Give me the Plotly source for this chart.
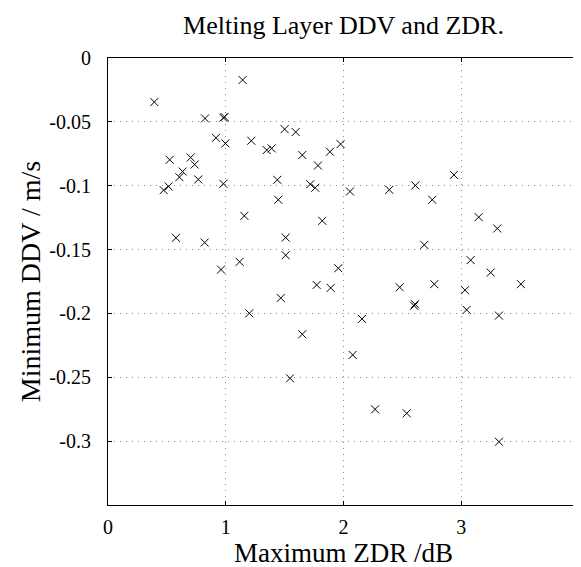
import plotly.graph_objects as go

# Data
zdr_max = [0.393, 1.143, 0.824, 0.98, 0.99, 0.917, 0.997, 1.217, 1.348, 1.39, 1.5, 1.594,
           1.65, 1.783, 1.885, 1.975, 0.524, 0.702, 0.736, 0.634, 0.606, 0.767, 0.473,
           0.515, 0.98, 1.438, 1.446, 1.718, 1.76, 2.055, 2.389, 2.61, 2.754, 2.938,
           3.148, 1.158, 1.82, 0.577, 0.821, 1.509, 1.509, 1.118, 0.96, 1.956, 1.772,
           1.891, 1.467, 1.2, 1.65, 1.546, 3.306, 2.686, 3.08, 3.25, 3.507, 2.477,
           2.771, 3.032, 2.607, 2.60, 3.046, 3.32, 2.157, 2.078, 2.268, 2.537, 3.32]
ddv_min = [-0.0345, -0.0172, -0.0473, -0.0468, -0.0462, -0.0625, -0.0669, -0.0648, -0.0721,
           -0.0708, -0.0557, -0.058, -0.076, -0.0842, -0.0734, -0.0674, -0.0797, -0.0779,
           -0.0834, -0.0889, -0.0933, -0.0951, -0.1035, -0.1006, -0.0985, -0.0954, -0.111,
           -0.0988, -0.1016, -0.1045, -0.1032, -0.0998, -0.111, -0.0915, -0.1246, -0.1236,
           -0.1275, -0.1408, -0.1445, -0.1406, -0.1544, -0.1596, -0.1657, -0.1646, -0.1777,
           -0.18, -0.1879, -0.1999, -0.2163, -0.2508, -0.1335, -0.1463, -0.1583, -0.168,
           -0.1771, -0.1795, -0.1771, -0.1818, -0.1928, -0.194, -0.1972, -0.2017, -0.2043,
           -0.2325, -0.2751, -0.2782, -0.3005]

x_ticks = [0, 1, 2, 3, 4]
x_tick_labels = ["0", "1", "2", "3", "4"]
y_ticks = [0, -0.05, -0.1, -0.15, -0.2, -0.25, -0.3]
y_tick_labels = ["0", "-0.05", "-0.1", "-0.15", "-0.2", "-0.25", "-0.3"]

FONT = "Times New Roman, Liberation Serif, serif"

fig = go.Figure()
fig.add_trace(go.Scatter(
    x=zdr_max, y=ddv_min, mode="markers",
    marker=dict(symbol="x-thin-open", size=8, color="black",
                line=dict(color="black", width=1)),
    showlegend=False,
))

axis_common = dict(
    automargin=False,
    showline=True, linecolor="black", linewidth=1, mirror="ticks",
    ticks="inside", ticklen=4, tickcolor="black",
    showgrid=True, gridcolor="#8a8a8a", griddash="1px,5px", gridwidth=1,
    zeroline=False,
    tickfont=dict(family=FONT, size=20, color="black"),
)

# page has an 8px body margin, so figure coords = page coords - 8
fig.update_layout(
    template="none",
    width=581, height=567,
    margin=dict(l=100, r=10, t=50, b=70, pad=0),
    paper_bgcolor="white", plot_bgcolor="white",
    font=dict(family=FONT, color="black"),
    title=dict(text="Melting Layer DDV and ZDR.", x=(100 + 571) / 2 / 581, xanchor="center",
               y=1 - 17 / 567, yanchor="middle",
               font=dict(family=FONT, size=26, color="black")),
    xaxis=dict(range=[0, 4], tickvals=x_ticks, ticktext=x_tick_labels,
               ticklabelstandoff=4,
               title=dict(text="Maximum ZDR /dB", standoff=0,
                          font=dict(family=FONT, size=27, color="black")),
               **axis_common),
    yaxis=dict(range=[-0.35, 0], tickvals=y_ticks, ticktext=y_tick_labels,
               ticklabelstandoff=12,
               title=dict(text="Minimum DDV / m/s", standoff=0,
                          font=dict(family=FONT, size=28, color="black")),
               **axis_common),
)

fig.write_html("out.html")
